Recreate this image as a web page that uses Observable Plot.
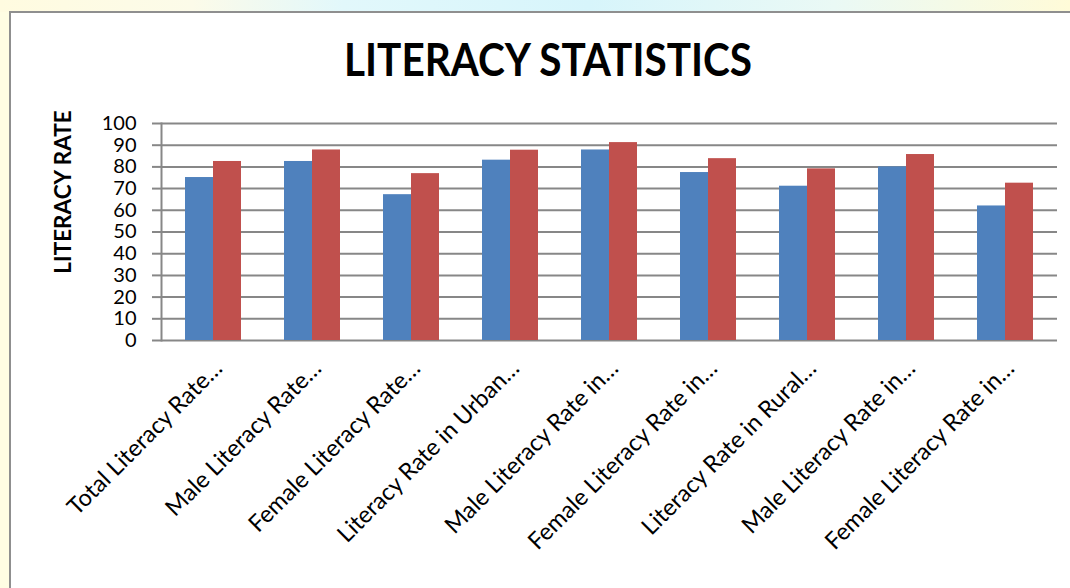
<!DOCTYPE html>
<html><head><meta charset="utf-8">
<script src="https://cdn.jsdelivr.net/npm/d3@7"></script>
<script src="https://cdn.jsdelivr.net/npm/@observablehq/plot@0.6"></script>
<style>
html,body{margin:0;padding:0;}
body{width:1070px;height:588px;overflow:hidden;position:relative;background:#fffde3;font-family:Lato,sans-serif;}
#topband{position:absolute;left:0;top:0;width:1070px;height:12px;background:linear-gradient(to right,#fffbe0 0%,#fcfbe9 18%,#e2f8fb 32%,#d7f5fb 55%,#eaf9f5 78%,#fffbd8 100%);}
#box{position:absolute;left:9px;top:11px;width:1100px;height:620px;background:#fff;border-left:2px solid #8f8f8f;border-top:2px solid #8f8f8f;}
#title{position:absolute;left:0;width:1096px;top:37px;text-align:center;font-weight:bold;font-size:45px;font-family:Lato,sans-serif;color:#000;line-height:1;transform:scaleX(0.9);}
#chart{position:absolute;left:0;top:100px;}
</style>
</head><body>
<div id="topband"></div>
<div id="box"></div>
<div id="title">LITERACY STATISTICS</div>
<div id="chart"></div>
<script>
const categories = ["Total Literacy Rate…", "Male Literacy Rate…", "Female Literacy Rate…", "Literacy Rate in Urban…", "Male Literacy Rate in…", "Female Literacy Rate in…", "Literacy Rate in Rural…", "Male Literacy Rate in…", "Female Literacy Rate in…"];
const seriesBlue = [75.1, 82.5, 67.2, 83.1, 87.8, 77.4, 71.1, 80.0, 62.0];
const seriesRed = [82.5, 87.8, 76.9, 87.7, 91.2, 83.8, 79.1, 85.7, 72.5];
const yTicks = [0, 10, 20, 30, 40, 50, 60, 70, 80, 90, 100];
const yLabel = "LITERACY RATE";

const rows = categories.map((c, i) => ({i, blue: seriesBlue[i], red: seriesRed[i]}));
const grey = "#878787";

const chart = Plot.plot({
  width: 1070,
  height: 488,
  marginLeft: 161,
  marginRight: 13,
  marginTop: 23,
  marginBottom: 248,
  style: {fontFamily: "Lato, sans-serif", background: "transparent", color: "#000", overflow: "visible"},
  x: {type: "band", domain: d3.range(categories.length), paddingInner: 0.4375, paddingOuter: 0.218, axis: null},
  y: {domain: [0, 100], axis: null},
  marks: [
    Plot.gridY(yTicks, {stroke: grey, strokeOpacity: 1, strokeWidth: 2}),
    Plot.barY(rows, {x: "i", y: "blue", fill: "#4F81BD", insetRight: 28}),
    Plot.barY(rows, {x: "i", y: "red", fill: "#C0504D", insetLeft: 28}),
    Plot.frame({anchor: "left", stroke: grey, strokeWidth: 2}),
    Plot.axisY(yTicks, {tickSize: 9, stroke: grey, strokeWidth: 2, tickPadding: 16, fontSize: 20, label: null, tickFormat: d => String(d)}),
    Plot.axisX({tickFormat: i => categories[i], tickRotate: -45, tickSize: 0, tickPadding: 24, dx: 5, fontSize: 23.5, label: null}),
    Plot.text([yLabel], {frameAnchor: "left", textAnchor: "middle", rotate: -90, dx: -98, dy: -40, fontSize: 22.5, fontWeight: "bold"})
  ]
});
document.getElementById("chart").appendChild(chart);
</script>
</body></html>
